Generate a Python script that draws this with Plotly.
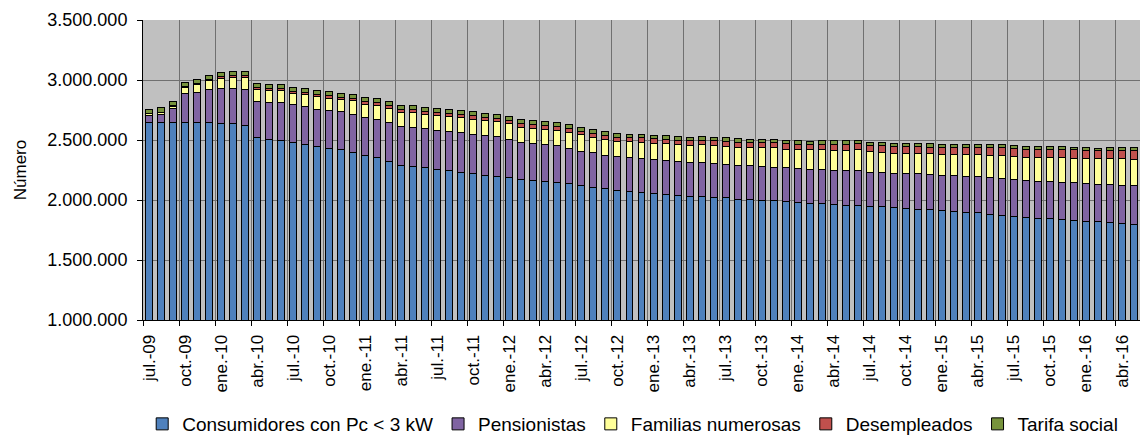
import plotly.graph_objects as go

meses = ["ene.", "feb.", "mar.", "abr.", "may.", "jun.", "jul.", "ago.", "sep.", "oct.", "nov.", "dic."]
# monthly categories jul.-09 ... may.-16
categorias = []
for i in range(83):
    m = (6 + i) % 12
    a = 9 + (6 + i) // 12
    categorias.append(f"{meses[m]}-{a:02d}")

consumidores = [2650, 2642, 2650, 2650, 2644, 2644, 2639, 2636, 2622, 2519, 2508, 2500, 2481, 2464, 2444, 2431,
                2417, 2400, 2367, 2353, 2322, 2289, 2281, 2267, 2258, 2242, 2231, 2219, 2208, 2200, 2189, 2175,
                2164, 2158, 2147, 2139, 2122, 2106, 2092, 2081, 2069, 2066, 2056, 2047, 2039, 2030, 2032, 2025,
                2017, 2008, 2006, 2000, 1992, 1986, 1978, 1972, 1967, 1964, 1958, 1956, 1947, 1944, 1936, 1928,
                1925, 1917, 1911, 1903, 1897, 1892, 1883, 1872, 1864, 1853, 1847, 1842, 1836, 1831, 1825, 1819,
                1814, 1806, 1797]
pensionistas = [56, 69, 114, 239, 256, 278, 289, 294, 300, 303, 308, 311, 311, 314, 311, 314,
                317, 314, 319, 322, 322, 322, 325, 325, 322, 328, 328, 331, 328, 328, 319, 308,
                305, 303, 306, 292, 286, 286, 283, 283, 286, 283, 283, 283, 281, 283, 281, 281,
                283, 283, 283, 283, 283, 283, 283, 286, 286, 286, 289, 286, 286, 286, 286, 292,
                294, 297, 295, 303, 303, 303, 303, 306, 306, 308, 308, 311, 311, 314, 314, 314,
                319, 319, 320]
familias = [12, 18, 19, 51, 64, 76, 84, 89, 96, 99, 98, 98, 94, 100, 104, 104,
            101, 112, 111, 112, 120, 120, 122, 122, 124, 123, 126, 125, 123, 125, 128, 124,
            130, 129, 129, 134, 134, 131, 128, 124, 129, 133, 134, 139, 141, 143, 148, 149,
            148, 149, 148, 154, 159, 155, 160, 159, 164, 166, 168, 175, 168, 170, 166, 168,
            167, 170, 174, 174, 179, 184, 188, 194, 194, 193, 200, 202, 205, 205, 209, 209,
            214, 218, 224]
desempleados = [3, 3, 4, 6, 7, 8, 14, 15, 16, 17, 18, 18, 19, 19, 20, 20,
                21, 21, 22, 23, 24, 25, 25, 26, 26, 27, 27, 28, 28, 29, 29, 30,
                30, 31, 31, 32, 32, 33, 33, 34, 34, 35, 36, 37, 37, 38, 39, 40,
                40, 41, 42, 42, 43, 44, 45, 46, 47, 48, 49, 50, 51, 52, 55, 56,
                57, 57, 58, 59, 60, 61, 62, 62, 63, 64, 65, 66, 66, 67, 68, 68,
                69, 70, 70]
tarifa_social = [35, 35, 35, 35, 35, 35, 35, 35, 35, 34, 34, 34, 34, 34, 34, 34,
                 34, 34, 34, 34, 34, 33, 33, 33, 33, 33, 33, 33, 32, 32, 32, 32,
                 32, 32, 32, 31, 31, 31, 31, 31, 31, 31, 30, 30, 30, 30, 30, 30,
                 29, 29, 29, 29, 29, 29, 28, 28, 28, 28, 28, 28, 28, 28, 26, 26,
                 26, 26, 26, 25, 25, 25, 25, 25, 24, 24, 24, 24, 24, 23, 23, 23,
                 23, 23, 23]

series = [
    ("Consumidores con Pc < 3 kW", consumidores, "#4F81BD"),
    ("Pensionistas", pensionistas, "#8064A2"),
    ("Familias numerosas", familias, "#FFFF99"),
    ("Desempleados", desempleados, "#C0504D"),
    ("Tarifa social", tarifa_social, "#77933C"),
]

idx = list(range(len(categorias)))
label_idx = idx[::3]
label_txt = [categorias[i] for i in label_idx]
boundary_vals = [i - 0.5 for i in label_idx] + [len(categorias) - 0.5]

fig = go.Figure()
for name, vals, color in series:
    fig.add_trace(go.Bar(
        x=idx, y=[v * 1000 for v in vals], name=name,
        marker=dict(color=color, line=dict(color="black", width=1)),
    ))

FONT = "Liberation Sans, Arial, sans-serif"
fig.update_layout(
    width=1140, height=444,
    barmode="stack", bargap=0.42,
    separators=",.",
    paper_bgcolor="white", plot_bgcolor="#C0C0C0",
    margin=dict(l=143, r=0, t=20, b=124, autoexpand=False),
    font=dict(family=FONT, size=17, color="black"),
    showlegend=True,
    legend=dict(orientation="h", xref="container", x=0.555, xanchor="center",
                yref="container", y=0.045, yanchor="middle",
                font=dict(size=19), itemwidth=30, traceorder="normal",
                bgcolor="rgba(0,0,0,0)"),
    xaxis=dict(
        range=[-0.5, len(categorias) - 0.5], automargin=False,
        tickmode="array", tickvals=label_idx, ticktext=label_txt,
        tickangle=-90, ticks="", showgrid=False, zeroline=False,
        showline=True, linecolor="black", linewidth=1,
        tickfont=dict(size=17), ticklabelstandoff=7,
        minor=dict(tickmode="array", tickvals=boundary_vals, ticks="outside", ticklen=5,
                   tickcolor="black", showgrid=True, gridcolor="#707070", gridwidth=1),
    ),
    yaxis=dict(
        range=[1000000, 3500000], dtick=500000, tick0=0, tickformat=",.0f",
        automargin=False,
        showgrid=True, gridcolor="#707070", gridwidth=1,
        showline=True, linecolor="black", linewidth=1,
        ticks="outside", ticklen=5, tickcolor="black", ticklabelstandoff=6,
        title=dict(text="Número", font=dict(size=17), standoff=16),
        zeroline=False, tickfont=dict(size=18),
    ),
)

fig.write_html(
    "out.html",
    config={"displayModeBar": False},
    post_script="document.body.style.margin='0';document.body.style.overflow='hidden';",
)
